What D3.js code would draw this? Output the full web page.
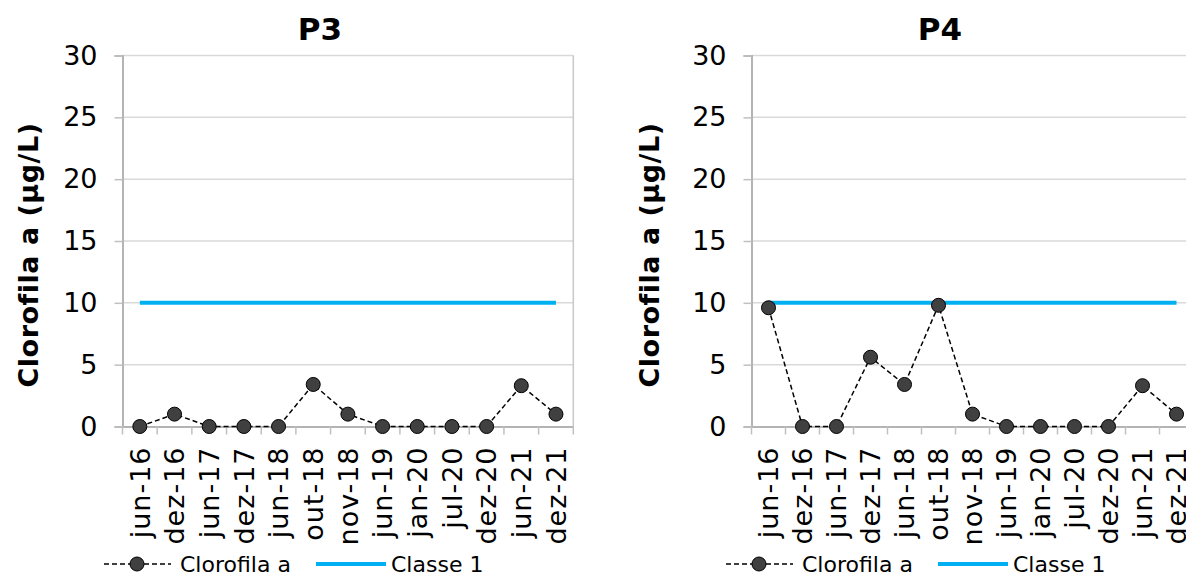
<!DOCTYPE html>
<html><head><meta charset="utf-8">
<script src="https://cdn.jsdelivr.net/npm/d3@7"></script>
<style>
html,body{margin:0;padding:0;background:#fff;}
svg{display:block;font-family:"DejaVu Sans",Verdana,sans-serif;}
</style></head>
<body><svg id="c" width="1186" height="577"></svg>
<script>
const categories = ["jun-16","dez-16","jun-17","dez-17","jun-18","out-18","nov-18","jun-19","jan-20","jul-20","dez-20","jun-21","dez-21"];
const p3Values = [0, 1, 0, 0, 0, 3.4, 1, 0, 0, 0, 0, 3.3, 1];
const p4Values = [9.6, 0, 0, 5.6, 3.4, 9.8, 1, 0, 0, 0, 0, 3.3, 1];
const classe1 = [10,10,10,10,10,10,10,10,10,10,10,10,10];
const yTicks = [0, 5, 10, 15, 20, 25, 30];
const panelTitles = ["P3", "P4"];
const yTitle = "Clorofila a (µg/L)";
const legendLabels = ["Clorofila a", "Classe 1"];

const svg = d3.select("#c");
const panels = [
  {title: panelTitles[0], values: p3Values, left: 122.5, right: 573.3, titleX: 320, yTitleX: 28, legendX: 104},
  {title: panelTitles[1], values: p4Values, left: 751.5, right: 1193.5, titleX: 940, yTitleX: 649, legendX: 726}
];
const plotTop = 55.5, plotBottom = 426.5;

panels.forEach(p => {
  const g = svg.append("g");
  const x = d3.scaleBand().domain(categories).range([p.left, p.right]);
  const y = d3.scaleLinear().domain([0, 30]).range([plotBottom, plotTop]);
  const cx = d => x(d) + x.bandwidth() / 2;

  // gridlines
  g.append("g").selectAll("line").data(yTicks.filter(t => t > 0)).join("line")
    .attr("x1", p.left).attr("x2", p.right)
    .attr("y1", d => y(d)).attr("y2", d => y(d))
    .attr("stroke", "#d9d9d9").attr("stroke-width", 1.5);
  // right border
  g.append("line").attr("x1", p.right).attr("x2", p.right).attr("y1", plotTop).attr("y2", plotBottom)
    .attr("stroke", "#c8c8c8").attr("stroke-width", 1.5);

  // y axis
  const ya = g.append("g").attr("transform", `translate(${p.left},0)`)
    .call(d3.axisLeft(y).tickValues(yTicks).tickSize(8).tickPadding(17));
  ya.select(".domain").attr("stroke", "#b4b4b4").attr("stroke-width", 2);
  ya.selectAll(".tick line").attr("stroke", "#c0c0c0").attr("stroke-width", 1.5);
  ya.selectAll(".tick text").attr("font-size", 27).attr("fill", "#000")
    .attr("font-family", '"DejaVu Sans",Verdana,sans-serif');

  // x axis
  const xa = g.append("g").attr("transform", `translate(0,${plotBottom})`)
    .call(d3.axisBottom(x).tickSize(0).tickPadding(0));
  xa.select(".domain").attr("stroke", "#b4b4b4").attr("stroke-width", 2);
  xa.selectAll(".tick text").attr("font-size", 27).attr("fill", "#000")
    .attr("letter-spacing", 1)
    .attr("font-family", '"DejaVu Sans",Verdana,sans-serif')
    .attr("text-anchor", "end")
    .attr("transform", "translate(0,20) rotate(-90)")
    .attr("dx", 0).attr("dy", "0.36em").attr("y", 0).attr("x", 0);
  // x category boundary ticks
  const bounds = categories.map(c => x(c)).concat([p.right]);
  xa.append("g").selectAll("line").data(bounds).join("line")
    .attr("x1", d => d).attr("x2", d => d).attr("y1", 0).attr("y2", 8)
    .attr("stroke", "#c0c0c0").attr("stroke-width", 1.5);

  // Classe 1 line
  g.append("path").datum(classe1)
    .attr("d", d3.line().x((d, i) => cx(categories[i])).y(d => y(d)))
    .attr("fill", "none").attr("stroke", "#00b0f0").attr("stroke-width", 4);

  // Clorofila line
  g.append("path").datum(p.values)
    .attr("d", d3.line().x((d, i) => cx(categories[i])).y(d => y(d)))
    .attr("fill", "none").attr("stroke", "#000").attr("stroke-width", 1.5)
    .attr("stroke-dasharray", "5,3");
  g.append("g").selectAll("circle").data(p.values).join("circle")
    .attr("cx", (d, i) => cx(categories[i])).attr("cy", d => y(d)).attr("r", 7)
    .attr("fill", "#404040").attr("stroke", "#000").attr("stroke-width", 1);

  // title
  g.append("text").attr("x", p.titleX).attr("y", 40).attr("text-anchor", "middle")
    .attr("font-size", 31).attr("font-weight", "bold").text(p.title);
  // y title
  g.append("text").attr("transform", `translate(${p.yTitleX},255) rotate(-90)`)
    .attr("text-anchor", "middle").attr("dy", "0.36em").attr("letter-spacing", 0.5)
    .attr("font-size", 27).attr("font-weight", "bold").text(yTitle);

  // legend
  const ly = 564, lx = p.legendX;
  g.append("line").attr("x1", lx).attr("x2", lx + 67).attr("y1", ly).attr("y2", ly)
    .attr("stroke", "#000").attr("stroke-width", 1.5).attr("stroke-dasharray", "5,3");
  g.append("circle").attr("cx", lx + 33).attr("cy", ly).attr("r", 7)
    .attr("fill", "#404040").attr("stroke", "#000");
  g.append("text").attr("x", lx + 76).attr("y", ly).attr("dy", "0.36em")
    .attr("font-size", 22).text(legendLabels[0]);
  g.append("line").attr("x1", lx + 212).attr("x2", lx + 282).attr("y1", ly).attr("y2", ly)
    .attr("stroke", "#00b0f0").attr("stroke-width", 4);
  g.append("text").attr("x", lx + 287).attr("y", ly).attr("dy", "0.36em")
    .attr("font-size", 22).text(legendLabels[1]);
});
</script></body></html>
